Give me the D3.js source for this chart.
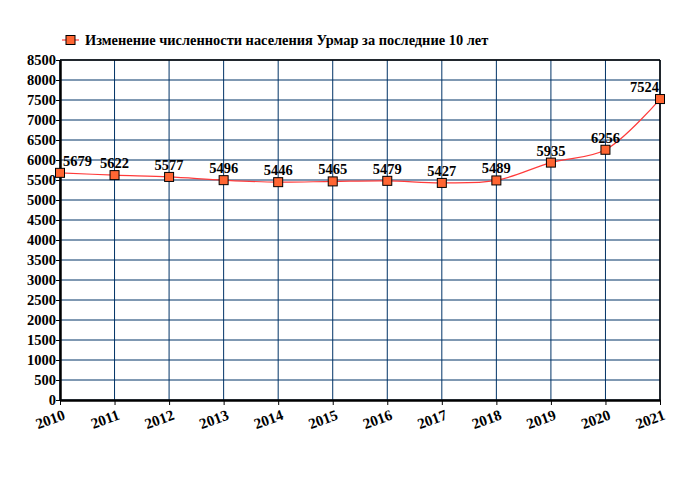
<!DOCTYPE html>
<html>
 <head>
  <meta charset="utf-8">
  <title>Урмар</title>
  <script src="https://cdnjs.cloudflare.com/ajax/libs/d3/7.8.5/d3.min.js"></script>
  <style>
    body { margin: 0; background: #fff; }
    text { font-family: "Liberation Serif", "Times New Roman", serif; font-weight: bold; }
  </style>
 </head>
 <body>
  <script>
    var years = [2010, 2011, 2012, 2013, 2014, 2015, 2016, 2017, 2018, 2019, 2020, 2021];
    var population = [5679, 5622, 5577, 5496, 5446, 5465, 5479, 5427, 5489, 5935, 6256, 7524];
    var yTicks = d3.range(0, 8501, 500);
    var title = "Изменение численности населения Урмар за последние 10 лет";

    var width = 680, height = 500;
    var plotLeft = 60, plotRight = 660, plotTop = 60, plotBottom = 400;
    var last = years.length - 1;

    var svg = d3.select("body").append("svg")
                .attr("width", width)
                .attr("height", height);

    var x = d3.scalePoint().domain(years).range([plotLeft, plotRight]);
    var y = d3.scaleLinear().domain([0, 8500]).range([plotBottom, plotTop]);

    // grid
    svg.append("g").selectAll("line")
       .data(yTicks)
       .join("line")
       .attr("x1", plotLeft).attr("x2", plotRight)
       .attr("y1", d => y(d)).attr("y2", d => y(d))
       .attr("stroke", "#003366").attr("stroke-width", 1);

    svg.append("g").selectAll("line")
       .data(years)
       .join("line")
       .attr("x1", d => x(d)).attr("x2", d => x(d))
       .attr("y1", plotTop).attr("y2", plotBottom)
       .attr("stroke", "#003366").attr("stroke-width", 1);

    // frame top / right
    svg.append("line").attr("x1", plotLeft).attr("x2", plotRight).attr("y1", plotTop).attr("y2", plotTop)
       .attr("stroke", "#000").attr("stroke-width", 1.5);
    svg.append("line").attr("x1", plotRight).attr("x2", plotRight).attr("y1", plotTop).attr("y2", plotBottom)
       .attr("stroke", "#000").attr("stroke-width", 1.5);

    // axes
    var yAxis = svg.append("g")
       .attr("transform", "translate(" + plotLeft + ",0)")
       .call(d3.axisLeft(y).tickValues(yTicks).tickSize(4).tickSizeOuter(0).tickFormat(d3.format("d")));
    yAxis.select(".domain").attr("stroke-width", 2.5);
    yAxis.selectAll("text").attr("font-size", 14.5).attr("fill", "#000").attr("x", -4);

    var xAxis = svg.append("g")
       .attr("transform", "translate(0," + plotBottom + ")")
       .call(d3.axisBottom(x).tickSize(5).tickSizeOuter(0));
    xAxis.select(".domain").attr("stroke-width", 2.5);
    xAxis.selectAll("text")
         .attr("font-size", 15).attr("fill", "#000")
         .attr("text-anchor", "end")
         .attr("x", 2).attr("y", 9).attr("dy", "0.71em")
         .attr("transform", "rotate(-20 2 9)");

    // line
    var line = d3.line()
                 .x((d, i) => x(years[i]))
                 .y(d => y(d))
                 .curve(d3.curveCatmullRom.alpha(0.5));

    svg.append("path")
       .datum(population)
       .attr("d", line)
       .attr("fill", "none")
       .attr("stroke", "#ff3b3b")
       .attr("stroke-width", 1.2);

    // markers
    svg.append("g").selectAll("rect")
       .data(population)
       .join("rect")
       .attr("x", (d, i) => x(years[i]) - 4.5)
       .attr("y", d => y(d) - 4.5)
       .attr("width", 9).attr("height", 9)
       .attr("fill", "#ff6633")
       .attr("stroke", "#000").attr("stroke-width", 1);

    // value labels
    svg.append("g").selectAll("text")
       .data(population)
       .join("text")
       .attr("x", (d, i) => i === 0 ? x(years[i]) + 3 : i === last ? x(years[i]) - 1 : x(years[i]))
       .attr("y", d => y(d) - 7)
       .attr("text-anchor", (d, i) => i === 0 ? "start" : i === last ? "end" : "middle")
       .attr("font-size", 14.5)
       .text(d => d);

    // legend
    var lg = svg.append("g").attr("transform", "translate(62,40)");
    lg.append("line").attr("x1", 0).attr("x2", 17).attr("y1", 0).attr("y2", 0)
      .attr("stroke", "#ff3b3b").attr("stroke-width", 1.2);
    lg.append("rect").attr("x", 4).attr("y", -4.5).attr("width", 9).attr("height", 9)
      .attr("fill", "#ff6633").attr("stroke", "#000");
    lg.append("text").attr("x", 23).attr("y", 5).attr("font-size", 14.4).text(title);
  </script>
 </body>
</html>
